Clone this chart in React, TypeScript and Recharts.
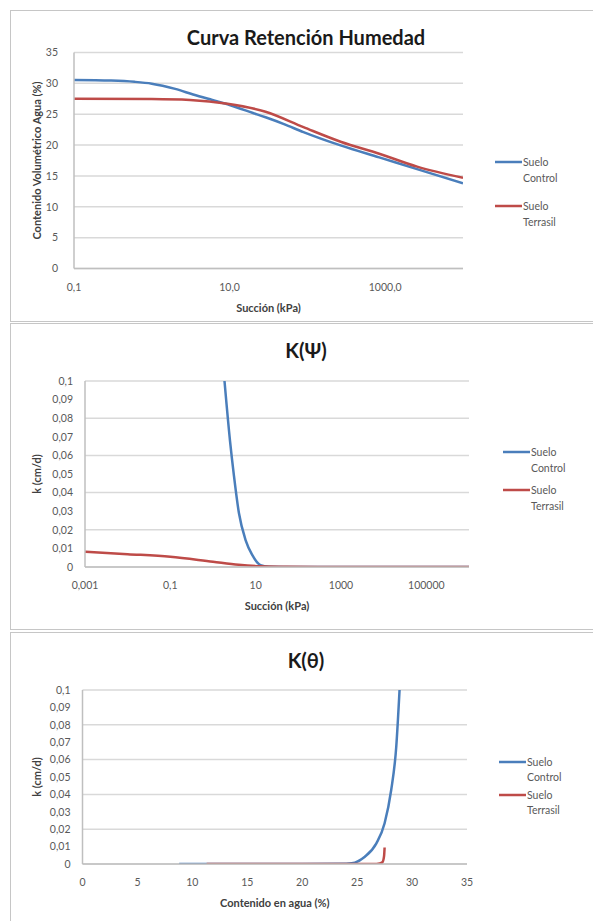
import { CartesianGrid, Label, Line, LineChart, XAxis, YAxis } from 'recharts';

const BLUE = '#4A7EBB';
const RED = '#BE4B48';
const FONT = 'Lato, "Open Sans", sans-serif';

// Curva Retención Humedad
const retControlSuction = [0.1, 0.3, 0.6, 1, 2, 3.4, 6, 10, 20, 29, 50, 89, 273, 838, 2570, 10000];
const retControlTheta = [30.55, 30.45, 30.25, 29.95, 29.1, 28.2, 27.3, 26.5, 25.2, 24.5, 23.4, 22.1, 19.9, 18.0, 16.1, 13.8];
const retTerrasilSuction = [0.1, 1, 3.1, 9.4, 29, 89, 273, 838, 2570, 10000];
const retTerrasilTheta = [27.5, 27.45, 27.3, 26.7, 25.4, 22.9, 20.5, 18.6, 16.5, 14.7];

// K(Psi)
const kpsiControlSuction = [1.86, 2.5, 3.1, 4.05, 5.8, 8.3, 13, 20, 100, 1000000];
const kpsiControlK = [0.1, 0.068, 0.049, 0.029, 0.0145, 0.0065, 0.001, 0.0002, 0, 0];
const kpsiTerrasilSuction = [0.001, 0.01, 0.1, 1, 4, 13, 50, 1000, 1000000];
const kpsiTerrasilK = [0.0082, 0.0069, 0.0055, 0.0028, 0.0012, 0.0004, 0.0001, 0, 0];

// K(theta)
const kthControlTheta = [8.8, 20, 24, 24.5, 25.7, 26.75, 27.5, 28.1, 28.56, 28.86];
const kthControlK = [0, 0, 0.0002, 0.0004, 0.0042, 0.0119, 0.0234, 0.0425, 0.0674, 0.1];
const kthTerrasilTheta = [11.3, 26.5, 27.05, 27.3, 27.45, 27.5];
const kthTerrasilK = [0, 0, 0.0003, 0.001, 0.0045, 0.0095];

const retTicksY = [0, 5, 10, 15, 20, 25, 30, 35];
const retTicksX = [0.1, 10, 1000];
const kTicksY = [0, 0.01, 0.02, 0.03, 0.04, 0.05, 0.06, 0.07, 0.08, 0.09, 0.1];
const kpsiTicksX = [0.001, 0.1, 10, 1000, 100000];
const kthTicksX = [0, 5, 10, 15, 20, 25, 30, 35];

const seriesNames = ['Suelo Control', 'Suelo Terrasil'];

const zip = (xs: number[], ys: number[]) => xs.map((x, i) => ({ x, y: ys[i] }));
const comma = (v: number) => String(v).replace('.', ',');

const tickStyle = { fontSize: 10.5, fill: '#595959', fontFamily: FONT };
const axisStroke = { stroke: '#bfbfbf', strokeWidth: 1.5 };

const axisTitle = (text: string, kind: 'x' | 'y') => (props: any) => {
  const vb = props.viewBox;
  if (kind === 'x') {
    return (
      <text x={vb.x + vb.width / 2} y={vb.y + 38.5} textAnchor="middle" dominantBaseline="central"
        fontSize={11} fontWeight="bold" fill="#404040" fontFamily={FONT}>{text}</text>
    );
  }
  const cy = vb.y + vb.height / 2;
  return (
    <text x={36} y={cy} transform={`rotate(-90 36 ${cy})`} textAnchor="middle" dominantBaseline="central"
      fontSize={11} fontWeight="bold" fill="#404040" fontFamily={FONT}>{text}</text>
  );
};

const LegendBox = ({ x, y, gap1, gap2 }: { x: number; y: number; gap1: number; gap2: number }) => (
  <g fontFamily={FONT} fontSize={10.5} fill="#595959">
    {seriesNames.map((name, i) => {
      const ly = i === 0 ? y : y + gap2;
      const [a, b] = name.split(' ');
      return (
        <g key={name}>
          <line x1={x} x2={x + 27} y1={ly} y2={ly} stroke={i === 0 ? BLUE : RED} strokeWidth={2.5} />
          <text x={x + 28} y={ly} dominantBaseline="central">{a}</text>
          <text x={x + 28} y={ly + gap1} dominantBaseline="central">{b}</text>
        </g>
      );
    })}
  </g>
);

const Panel = ({ top, height, title, titleSize, children, legend }: any) => (
  <div style={{ position: 'absolute', left: 0, top, width: 593, height }}>
    <div style={{ position: 'absolute', left: 10, top: 0, width: 600, height: height - 2, border: '1.5px solid #c6c6c6', boxSizing: 'border-box' }} />
    <div style={{ position: 'absolute', left: 0, top: 0 }}>{children}</div>
    <svg width={593} height={height} style={{ position: 'absolute', left: 0, top: 0, pointerEvents: 'none' }}>
      <text x={306} y={title.y} textAnchor="middle" dominantBaseline="central" fontFamily={FONT}
        fontWeight="bold" fontSize={titleSize} fill="#1a1a1a">{title.text}</text>
      {legend}
    </svg>
  </div>
);

export default function App() {
  return (
    <div style={{ position: 'absolute', left: 0, top: 0, width: 593, height: 921, overflow: 'hidden', background: '#fff' }}>
      <Panel top={10} height={314} title={{ text: 'Curva Retención Humedad', y: 27 }} titleSize={20}
        legend={<LegendBox x={495} y={152} gap1={16} gap2={44} />}>
        <LineChart width={593} height={312} margin={{ top: 42.5, right: 130, bottom: 23.5, left: 34 }}>
          <CartesianGrid vertical={false} stroke="#d9d9d9" strokeWidth={1.5} />
          <XAxis dataKey="x" type="number" scale="log" domain={[0.1, 10000]} ticks={retTicksX} allowDataOverflow
            tickFormatter={(v: number) => v.toFixed(1).replace('.', ',')} tick={tickStyle} tickLine={false}
            tickSize={0} tickMargin={15} height={30} axisLine={axisStroke}>
            <Label content={axisTitle('Succión (kPa)', 'x')} />
          </XAxis>
          <YAxis type="number" domain={[0, 35]} ticks={retTicksY} tick={tickStyle} tickLine={false} tickSize={0}
            tickMargin={16} width={40} axisLine={axisStroke} allowDataOverflow>
            <Label content={axisTitle('Contenido Volumétrico Agua (%)', 'y')} />
          </YAxis>
          <Line data={zip(retControlSuction, retControlTheta)} dataKey="y" name={seriesNames[0]} type="monotone"
            stroke={BLUE} strokeWidth={2.5} dot={false} isAnimationActive={false} />
          <Line data={zip(retTerrasilSuction, retTerrasilTheta)} dataKey="y" name={seriesNames[1]} type="monotone"
            stroke={RED} strokeWidth={2.5} dot={false} isAnimationActive={false} />
        </LineChart>
      </Panel>

      <Panel top={323} height={309} title={{ text: 'K(Ψ)', y: 27 }} titleSize={20}
        legend={<LegendBox x={503} y={129} gap1={16} gap2={38} />}>
        <LineChart width={593} height={307} margin={{ top: 58, right: 124, bottom: 23, left: 40 }}>
          <CartesianGrid vertical={false} stroke="#d9d9d9" strokeWidth={1.5} />
          <XAxis dataKey="x" type="number" scale="log" domain={[0.001, 1000000]} ticks={kpsiTicksX} allowDataOverflow
            tickFormatter={comma} tick={tickStyle} tickLine={false} tickSize={0} tickMargin={15} height={40}
            axisLine={axisStroke}>
            <Label content={axisTitle('Succión (kPa)', 'x')} />
          </XAxis>
          <YAxis type="number" domain={[0, 0.1]} ticks={kTicksY} tickFormatter={comma} tick={tickStyle}
            tickLine={false} tickSize={0} tickMargin={12} width={45} axisLine={axisStroke} allowDataOverflow>
            <Label content={axisTitle('k (cm/d)', 'y')} />
          </YAxis>
          <Line data={zip(kpsiControlSuction, kpsiControlK)} dataKey="y" name={seriesNames[0]} type="monotone"
            stroke={BLUE} strokeWidth={2.5} dot={false} isAnimationActive={false} />
          <Line data={zip(kpsiTerrasilSuction, kpsiTerrasilK)} dataKey="y" name={seriesNames[1]} type="monotone"
            stroke={RED} strokeWidth={2.5} dot={false} isAnimationActive={false} />
        </LineChart>
      </Panel>

      <Panel top={632} height={300} title={{ text: 'K(θ)', y: 28 }} titleSize={20}
        legend={<LegendBox x={499} y={130} gap1={15} gap2={33} />}>
        <LineChart width={593} height={289} margin={{ top: 58, right: 126, bottom: 17, left: 37.5 }}>
          <CartesianGrid vertical={false} stroke="#d9d9d9" strokeWidth={1.5} />
          <XAxis dataKey="x" type="number" domain={[0, 35]} ticks={kthTicksX} allowDataOverflow
            tick={tickStyle} tickLine={false} tickSize={0} tickMargin={15} height={40} axisLine={axisStroke}>
            <Label content={axisTitle('Contenido en agua (%)', 'x')} />
          </XAxis>
          <YAxis type="number" domain={[0, 0.1]} ticks={kTicksY} tickFormatter={comma} tick={tickStyle}
            tickLine={false} tickSize={0} tickMargin={12} width={45} axisLine={axisStroke} allowDataOverflow>
            <Label content={axisTitle('k (cm/d)', 'y')} />
          </YAxis>
          <Line data={zip(kthControlTheta, kthControlK)} dataKey="y" name={seriesNames[0]} type="monotone"
            stroke={BLUE} strokeWidth={2.5} dot={false} isAnimationActive={false} />
          <Line data={zip(kthTerrasilTheta, kthTerrasilK)} dataKey="y" name={seriesNames[1]} type="monotone"
            stroke={RED} strokeWidth={2.5} dot={false} isAnimationActive={false} />
        </LineChart>
      </Panel>
    </div>
  );
}
